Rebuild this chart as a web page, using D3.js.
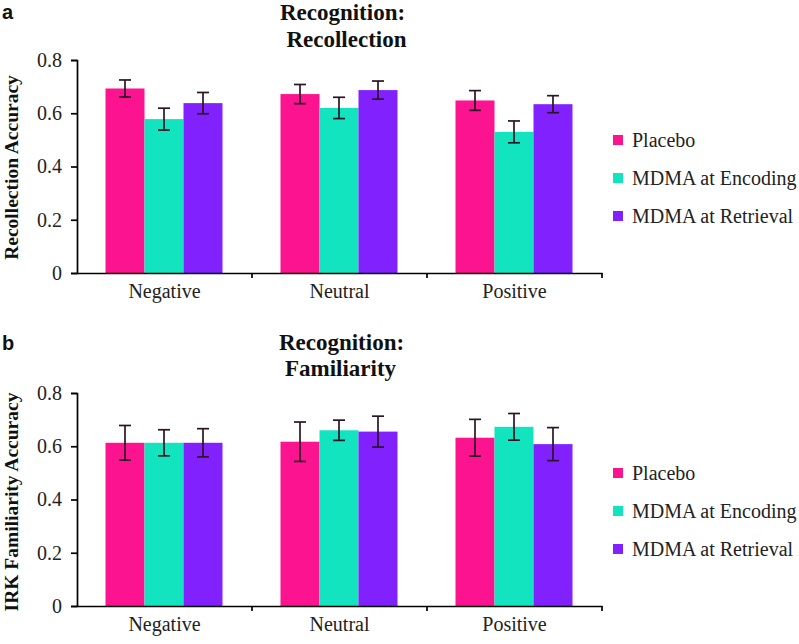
<!DOCTYPE html>
<html><head><meta charset="utf-8">
<script src="https://cdn.jsdelivr.net/npm/d3@7"></script>
<style>body{margin:0;background:#fff}svg{display:block}</style>
</head><body>
<svg id="c" width="799" height="644"></svg>
<script>
const categories = ["Negative", "Neutral", "Positive"];
const seriesNames = ["Placebo", "MDMA at Encoding", "MDMA at Retrieval"];
const colors = ["#fc1390", "#12e4c0", "#8021fe"];
const yTicks = [0, 0.2, 0.4, 0.6, 0.8];

// Panel a: Recollection
const recollPlacebo = [0.693, 0.672, 0.648];
const recollEncoding = [0.578, 0.620, 0.530];
const recollRetrieval = [0.638, 0.687, 0.634];
const recollPlaceboErr = [0.032, 0.036, 0.037];
const recollEncodingErr = [0.041, 0.040, 0.041];
const recollRetrievalErr = [0.040, 0.034, 0.032];

// Panel b: Familiarity
const famPlacebo = [0.613, 0.617, 0.632];
const famEncoding = [0.613, 0.660, 0.673];
const famRetrieval = [0.613, 0.655, 0.608];
const famPlaceboErr = [0.065, 0.074, 0.069];
const famEncodingErr = [0.049, 0.038, 0.050];
const famRetrievalErr = [0.053, 0.058, 0.062];

const svg = d3.select("#c");
const serif = "'Liberation Serif', 'Times New Roman', serif";

function panel(oy, cfg) {
  const g = svg.append("g").attr("transform", `translate(0,${oy})`);
  const x0 = 77, x1 = 602, yTop = 60, yBot = 273;
  const x = d3.scaleBand().domain(categories).range([x0, x1]);
  const inner = d3.scaleBand().domain(seriesNames).range([28.5, 28.5 + 117]);
  const y = d3.scaleLinear().domain([0, 0.8]).range([yBot, yTop]);

  categories.forEach((c, ci) => {
    seriesNames.forEach((s, si) => {
      const v = cfg.vals[si][ci], e = cfg.errs[si][ci];
      const bx = x(c) + inner(s);
      g.append("rect").attr("x", bx).attr("y", y(v)).attr("width", inner.bandwidth())
        .attr("height", y(0) - y(v)).attr("fill", colors[si]);
      const cx = bx + inner.bandwidth() / 2;
      g.append("line").attr("x1", cx).attr("x2", cx).attr("y1", y(v + e)).attr("y2", y(v - e))
        .attr("stroke", "#2b1424").attr("stroke-width", 1.7);
      [v + e, v - e].forEach(t => g.append("line").attr("x1", cx - 6).attr("x2", cx + 6)
        .attr("y1", y(t)).attr("y2", y(t)).attr("stroke", "#2b1424").attr("stroke-width", 1.7));
    });
  });

  const ya = g.append("g").attr("transform", `translate(${x0},0)`)
    .call(d3.axisLeft(y).tickValues(yTicks).tickFormat(d => d === 0 ? "0" : d3.format(".1f")(d))
      .tickSizeOuter(0).tickSize(6).tickPadding(9));
  ya.select(".domain").attr("stroke", "#000").attr("stroke-width", 1.7);
  ya.selectAll(".tick line").attr("stroke", "#000").attr("stroke-width", 1.7);
  ya.selectAll("text").style("font-family", serif).style("font-size", "20px").attr("fill", "#222");

  const xa = g.append("g").attr("transform", `translate(0,${yBot})`)
    .call(d3.axisBottom(x).tickSize(0).tickPadding(11).tickSizeOuter(0));
  xa.select(".domain").attr("stroke", "#000").attr("stroke-width", 1.7);
  xa.selectAll("text").style("font-family", serif).style("font-size", "20px").attr("fill", "#222");
  const bounds = categories.map(c => x(c)).slice(1).concat([x1]);
  bounds.forEach(b => g.append("line").attr("x1", b).attr("x2", b).attr("y1", yBot).attr("y2", yBot + 5)
    .attr("stroke", "#000").attr("stroke-width", 1.7));

  g.append("text").attr("x", cfg.t1x).attr("y", cfg.t1y).attr("text-anchor", "middle")
    .style("font-family", serif).style("font-weight", "bold").style("font-size", "23px").attr("fill", "#111").text(cfg.title1);
  g.append("text").attr("x", cfg.t2x).attr("y", cfg.t2y).attr("text-anchor", "middle")
    .style("font-family", serif).style("font-weight", "bold").style("font-size", "23px").attr("fill", "#111").text(cfg.title2);
  g.append("text").attr("x", 2).attr("y", cfg.letterY).style("font-family", "'Liberation Sans', Arial, sans-serif")
    .style("font-weight", "bold").style("font-size", "20px").attr("fill", "#111").text(cfg.letter);
  g.append("text").attr("transform", `translate(18,${cfg.ylabelY}) rotate(-90)`).attr("text-anchor", "middle")
    .style("font-family", serif).style("font-weight", "bold").style("font-size", "19.5px").attr("fill", "#111").text(cfg.yLabel);

  seriesNames.forEach((s, i) => {
    const base = 147 + i * 38;
    g.append("rect").attr("x", 613).attr("y", base - 12).attr("width", 10).attr("height", 10).attr("fill", colors[i]);
    g.append("text").attr("x", 632).attr("y", base).style("font-family", serif)
      .style("font-size", "20px").attr("fill", "#222").text(s);
  });
}

panel(0, { letter: "a", letterY: 19, title1: "Recognition:", title2: "Recollection",
  t1x: 342.5, t1y: 20, t2x: 346.5, t2y: 47, yLabel: "Recollection Accuracy", ylabelY: 167.5,
  vals: [recollPlacebo, recollEncoding, recollRetrieval],
  errs: [recollPlaceboErr, recollEncodingErr, recollRetrievalErr] });
panel(333, { letter: "b", letterY: 17, title1: "Recognition:", title2: "Familiarity",
  t1x: 341.5, t1y: 17, t2x: 340.5, t2y: 43, yLabel: "IRK Familiarity Accuracy", ylabelY: 169,
  vals: [famPlacebo, famEncoding, famRetrieval],
  errs: [famPlaceboErr, famEncodingErr, famRetrievalErr] });
</script>
</body></html>
